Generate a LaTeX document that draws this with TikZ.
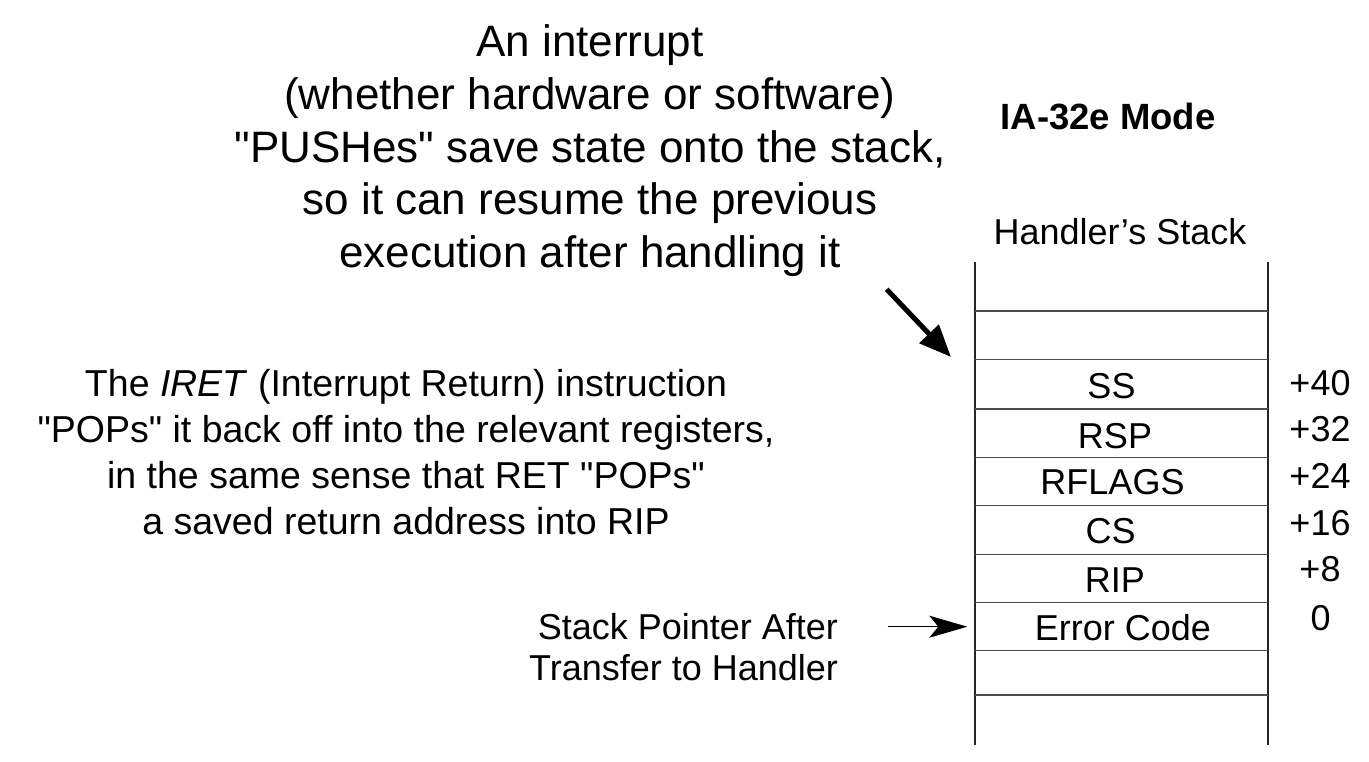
\documentclass[tikz,border=0pt]{standalone}
\usepackage{fontspec}
\setmainfont{Liberation Sans}[Ligatures=TeXOff]
\usetikzlibrary{arrows.meta}
\begin{document}
\begin{tikzpicture}[x=1pt,y=-1pt,
  every node/.style={inner sep=0pt, outer sep=0pt},
  bigtext/.style={font=\fontsize{44}{52.7}\selectfont, anchor=base},
  sidetext/.style={font=\fontsize{37.5}{46}\selectfont, anchor=base},
  celltext/.style={font=\fontsize{36}{43}\selectfont, anchor=base},
  offtext/.style={font=\fontsize{36}{43}\selectfont, anchor=base},
  rail/.style={line width=1.8pt, black!85},
  divider/.style={line width=1.5pt, black!70},
]
\useasboundingbox (0,0) rectangle (1369,762);

% explanatory text blocks
\node[bigtext] (pushnote) at (590,56.7) {\begin{tabular}[t]{@{}c@{}}
  An interrupt\\
  (whether hardware or software)\\
  "PUSHes" save state onto the stack,\\
  so it can resume the previous\\
  execution after handling it
\end{tabular}};

\node[sidetext] (iretnote) at (406,396) {\begin{tabular}[t]{@{}c@{}}
  The \textit{IRET} (Interrupt Return) instruction\\
  "POPs" it back off into the relevant registers,\\
  in the same sense that RET "POPs"\\
  a saved return address into RIP
\end{tabular}};

\node[font=\fontsize{36}{41}\selectfont, anchor=base east] (spnote) at (838,639)
  {\begin{tabular}[t]{@{}r@{}}Stack Pointer After\\Transfer to Handler\end{tabular}};

% headings
\node[font=\bfseries\fontsize{36.5}{44}\selectfont, anchor=base] (mode) at (1108,130) {IA-32e Mode};
\node[celltext] (stacktitle) at (1120,245) {Handler’s Stack};

% stack frame
\draw[rail] (974.7,262) -- (974.7,745);
\draw[rail] (1268,262) -- (1268,745);
\foreach \y in {311,359.3,409,457.3,505.7,554.3,602.3,650.7,695}
  \draw[divider] (974.7,\y) -- (1268,\y);

% stack contents
\node[celltext] (ss)     at (1111.5,398)   {SS};
\node[celltext] (rsp)    at (1115,448)     {RSP};
\node[celltext] (rflags) at (1112.5,494)   {RFLAGS};
\node[celltext] (cs)     at (1110.7,543)   {CS};
\node[celltext] (rip)    at (1114.8,592.7) {RIP};
\node[celltext] (err)    at (1123,640)     {Error Code};

% byte offsets
\node[offtext] (o40) at (1320,395)   {+40};
\node[offtext] (o32) at (1320,441.7) {+32};
\node[offtext] (o24) at (1320,488)   {+24};
\node[offtext] (o16) at (1320,535)   {+16};
\node[offtext] (o8)  at (1320,581.7) {+8};
\node[offtext] (o0)  at (1320.5,630) {0};

% arrows
\coordinate (pushTail) at (886.7,289.3);
\coordinate (pushTip)  at (951,357);
\draw[line width=5pt, -{Triangle[length=32pt,width=26pt]}] (pushTail) -- (pushTip);

\coordinate (spTail) at (887.7,626.7);
\coordinate (spTip)  at (967.3,626.7);
\draw[line width=1.3pt, -{Stealth[length=38pt,width=22pt,inset=9pt]}] (spTail) -- (spTip);
\end{tikzpicture}
\end{document}
